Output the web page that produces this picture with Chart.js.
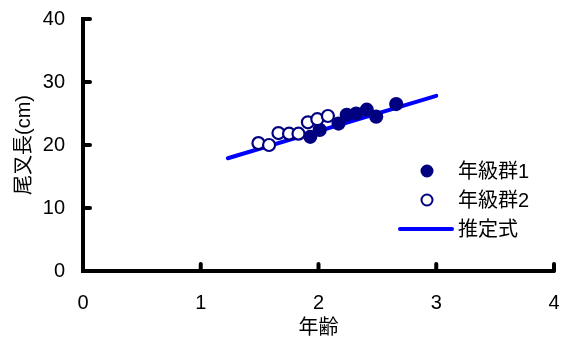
<!DOCTYPE html>
<html>
<head>
<meta charset="utf-8">
<script src="https://cdn.jsdelivr.net/npm/chart.js@4/dist/chart.umd.min.js"></script>
<style>
  html, body { margin: 0; padding: 0; background: #fff; }
  #wrap { width: 568px; height: 341px; }
</style>
</head>
<body>
<div id="wrap"><canvas id="chart"></canvas></div>
<script>
// ── Data ──────────────────────────────────────────────────────────────────────
const group1 = [ // 年級群1 (filled)
  [1.93, 21.3], [2.01, 22.4], [2.17, 23.4], [2.24, 24.8],
  [2.32, 25.0], [2.41, 25.6], [2.49, 24.5], [2.66, 26.5]
];
const group2 = [ // 年級群2 (open)
  [1.49, 20.3], [1.58, 20.0], [1.66, 21.9], [1.75, 21.8],
  [1.83, 21.8], [1.91, 23.6], [1.99, 24.1], [2.08, 24.6]
];
const fitLine = [[1.23, 17.9], [3.0, 27.8]]; // 推定式
const xTicks = [0, 1, 2, 3, 4];
const yTicks = [0, 10, 20, 30, 40];
const labels = ['年級群1', '年級群2', '推定式'];

const FONT = "'Liberation Sans', 'Noto Sans CJK JP', sans-serif";
const NAVY = '#000080';
const BLUE = '#0000ff';

const toXY = arr => arr.map(([x, y]) => ({ x, y }));

// ticks drawn inward + legend on the right
const axisPlugin = {
  id: 'axisPlugin',
  afterDraw(chart) {
    const { ctx, scales: { x, y } } = chart;
    ctx.save();
    ctx.strokeStyle = '#000';
    ctx.lineWidth = 4;
    ctx.lineCap = 'round';
    const x0 = x.getPixelForValue(0), y0 = y.getPixelForValue(0);
    xTicks.forEach(v => {
      const px = x.getPixelForValue(v);
      ctx.beginPath(); ctx.moveTo(px, y0); ctx.lineTo(px, y0 - 7); ctx.stroke();
    });
    yTicks.forEach(v => {
      const py = y.getPixelForValue(v);
      ctx.beginPath(); ctx.moveTo(x0, py); ctx.lineTo(x0 + 7, py); ctx.stroke();
    });

    // legend
    const rows = [171, 200, 229];
    ctx.font = '20px ' + FONT;
    ctx.textBaseline = 'middle';
    ctx.textAlign = 'left';
    ctx.lineWidth = 2;
    ctx.strokeStyle = NAVY;
    ctx.beginPath(); ctx.arc(427, rows[0], 5.5, 0, Math.PI * 2);
    ctx.fillStyle = NAVY; ctx.fill(); ctx.stroke();
    ctx.beginPath(); ctx.arc(427, rows[1], 5.5, 0, Math.PI * 2);
    ctx.fillStyle = '#fff'; ctx.fill(); ctx.stroke();
    ctx.strokeStyle = BLUE; ctx.lineWidth = 4;
    ctx.beginPath(); ctx.moveTo(400, rows[2]); ctx.lineTo(452, rows[2]); ctx.stroke();
    ctx.fillStyle = '#000';
    labels.forEach((t, i) => ctx.fillText(t, 458, rows[i] + 1));
    ctx.restore();
  }
};

new Chart(document.getElementById('chart'), {
  type: 'scatter',
  data: {
    datasets: [
      { label: labels[1], data: toXY(group2), order: 1,
        pointRadius: 6, pointHoverRadius: 6, pointBorderWidth: 2.2,
        pointBackgroundColor: '#fff', pointBorderColor: NAVY },
      { label: labels[0], data: toXY(group1), order: 2,
        pointRadius: 6, pointHoverRadius: 6, pointBorderWidth: 2.2,
        pointBackgroundColor: NAVY, pointBorderColor: NAVY },
      { label: labels[2], data: toXY(fitLine), order: 3, showLine: true,
        pointRadius: 0, borderColor: BLUE, borderWidth: 4, borderCapStyle: 'round' }
    ]
  },
  options: {
    responsive: true,
    maintainAspectRatio: false,
    animation: false,
    events: [],
    layout: { padding: { top: 19, right: 14, left: 0, bottom: 0 } },
    plugins: { legend: { display: false }, tooltip: { enabled: false } },
    scales: {
      x: {
        type: 'linear', min: 0, max: 4,
        afterBuildTicks: s => { s.ticks = xTicks.map(v => ({ value: v })); },
        afterFit: s => { s.height = 70; s.paddingLeft = 0; s.paddingRight = 0; },
        grid: { display: false, drawTicks: false },
        border: { display: true, color: '#000', width: 4 },
        ticks: { color: '#000', padding: 20, font: { family: FONT, size: 20 } },
        title: { display: true, text: '年齢', color: '#000',
                 padding: { top: 0, bottom: 1 }, font: { family: FONT, size: 20 } }
      },
      y: {
        type: 'linear', min: 0, max: 40,
        afterBuildTicks: s => { s.ticks = yTicks.map(v => ({ value: v })); },
        afterFit: s => { s.width = 83; s.paddingTop = 0; s.paddingBottom = 0; },
        grid: { display: false, drawTicks: false },
        border: { display: true, color: '#000', width: 4 },
        ticks: { color: '#000', padding: 18, font: { family: FONT, size: 20 } },
        title: { display: true, text: '尾叉長(cm)', color: '#000',
                 padding: { top: 12, bottom: 7 }, font: { family: FONT, size: 20 } }
      }
    }
  },
  plugins: [axisPlugin]
});
</script>
</body>
</html>
